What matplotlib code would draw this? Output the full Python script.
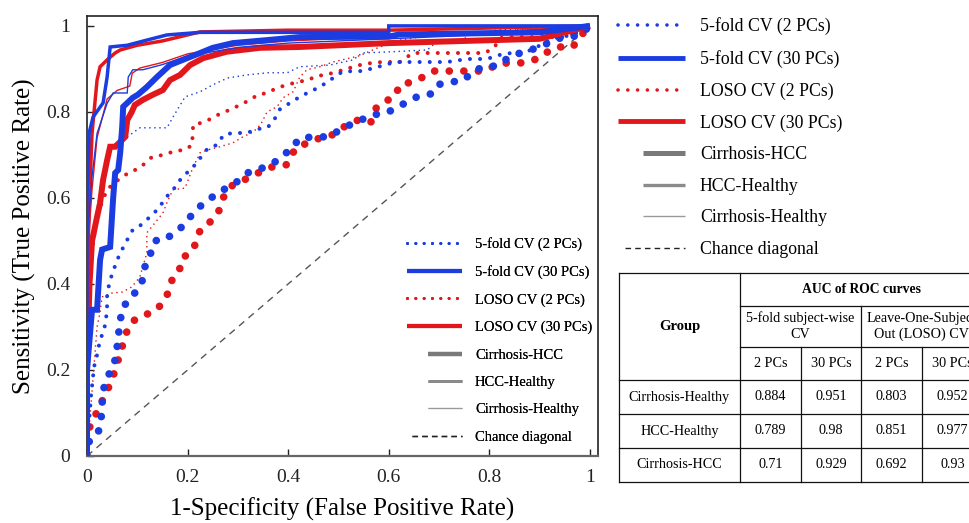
import matplotlib

matplotlib.use("Agg")
import numpy as np
import matplotlib.pyplot as plt
from matplotlib.lines import Line2D
from matplotlib.legend_handler import HandlerLine2D

plt.rcParams["font.family"] = ["Liberation Serif", "DejaVu Serif"]

# ---- ROC curves (FPR, TPR) ----
# Cirrhosis-HCC
kf2_ch_x = [0, 0.004, 0.022, 0.028, 0.03, 0.032, 0.04, 0.05, 0.06, 0.06, 0.066, 0.068, 0.08, 0.095,
            0.109, 0.113, 0.125, 0.131, 0.147, 0.162, 0.189, 0.218, 0.243, 0.266, 0.29, 0.322, 0.35,
            0.37, 0.39, 0.41, 0.42, 0.447, 0.48, 0.50, 0.523, 0.543, 0.566, 0.594, 0.616, 0.636, 0.656,
            0.684, 0.696, 0.716, 0.75, 0.767, 0.791, 0.815, 0.837, 0.861, 0.887, 0.91, 0.93, 0.96, 0.98, 1.0]
kf2_ch_y = [0, 0.033, 0.053, 0.084, 0.12, 0.153, 0.18, 0.207, 0.235, 0.272, 0.302, 0.337, 0.36, 0.379,
            0.402, 0.435, 0.463, 0.495, 0.509, 0.509, 0.533, 0.574, 0.597, 0.616, 0.63, 0.66, 0.67,
            0.68, 0.70, 0.716, 0.737, 0.742, 0.742, 0.756, 0.77, 0.78, 0.793, 0.797, 0.81, 0.823, 0.835,
            0.842, 0.863, 0.868, 0.874, 0.895, 0.905, 0.907, 0.925, 0.937, 0.946, 0.956, 0.97, 0.974, 0.979, 1.0]
lo2_ch_x = [0, 0.006, 0.018, 0.048, 0.056, 0.078, 0.089, 0.109, 0.133, 0.151, 0.161, 0.169, 0.183, 0.189,
            0.207, 0.218, 0.225, 0.243, 0.261, 0.268, 0.284, 0.304, 0.34, 0.368, 0.396, 0.406, 0.42, 0.445,
            0.467, 0.489, 0.517, 0.539, 0.564, 0.575, 0.59, 0.612, 0.622, 0.648, 0.668, 0.688, 0.722, 0.753,
            0.787, 0.811, 0.835, 0.869, 0.894, 0.912, 0.934, 0.966, 0.98, 1.0]
lo2_ch_y = [0, 0.072, 0.098, 0.172, 0.2, 0.286, 0.312, 0.326, 0.335, 0.356, 0.379, 0.409, 0.428, 0.46,
            0.474, 0.498, 0.526, 0.542, 0.565, 0.595, 0.626, 0.637, 0.658, 0.672, 0.677, 0.70, 0.721, 0.729,
            0.742, 0.747, 0.77, 0.781, 0.775, 0.809, 0.823, 0.835, 0.863, 0.87, 0.881, 0.895, 0.895, 0.895,
            0.895, 0.907, 0.914, 0.914, 0.923, 0.937, 0.951, 0.951, 0.975, 1.0]
kf30_ch_x = [0, 0, 0.01, 0.02, 0.026, 0.03, 0.046, 0.052, 0.056, 0.062, 0.066, 0.07, 0.072, 0.082, 0.091,
             0.101, 0.119, 0.139, 0.165, 0.199, 0.225, 0.25, 0.29, 0.358, 0.423, 0.6, 0.62, 0.9, 1.0]
kf30_ch_y = [0, 0.2, 0.34, 0.34, 0.456, 0.48, 0.486, 0.6, 0.658, 0.665, 0.705, 0.765, 0.812, 0.823, 0.833,
             0.84, 0.858, 0.881, 0.909, 0.925, 0.937, 0.949, 0.96, 0.967, 0.974, 0.975, 0.98, 0.985, 1.0]
lo30_ch_x = [0, 0.0, 0.005, 0.01, 0.02, 0.026, 0.032, 0.04, 0.046, 0.056, 0.076, 0.08, 0.089, 0.095, 0.111,
             0.131, 0.151, 0.165, 0.185, 0.205, 0.231, 0.278, 0.344, 0.423, 0.6, 0.9, 1.0]
lo30_ch_y = [0, 0.2, 0.4, 0.5, 0.556, 0.588, 0.642, 0.688, 0.719, 0.719, 0.742, 0.781, 0.8, 0.816, 0.828,
             0.84, 0.851, 0.874, 0.886, 0.909, 0.925, 0.94, 0.949, 0.951, 0.96, 0.97, 1.0]

# HCC-Healthy
kf2_hh_x = [0, 0.003, 0.008, 0.014, 0.02, 0.026, 0.034, 0.038, 0.04, 0.04, 0.048, 0.06, 0.074, 0.091, 0.105,
            0.129, 0.145, 0.155, 0.169, 0.181, 0.195, 0.207, 0.218, 0.229, 0.241, 0.258, 0.272, 0.29, 0.318,
            0.338, 0.358, 0.37, 0.384, 0.404, 0.423, 0.443, 0.463, 0.487, 0.507, 0.529, 0.549, 0.569, 0.592,
            0.612, 0.636, 0.672, 0.716, 0.755, 0.785, 0.805, 0.827, 0.847, 0.875, 0.91, 0.926, 0.946, 0.974, 1.0]
kf2_hh_y = [0, 0.06, 0.14, 0.207, 0.235, 0.27, 0.293, 0.32, 0.35, 0.38, 0.416, 0.456, 0.49, 0.526, 0.535,
            0.56, 0.579, 0.6, 0.614, 0.637, 0.653, 0.67, 0.679, 0.70, 0.716, 0.723, 0.747, 0.751, 0.751,
            0.76, 0.763, 0.777, 0.807, 0.821, 0.835, 0.847, 0.858, 0.877, 0.893, 0.895, 0.895, 0.902, 0.909,
            0.916, 0.916, 0.916, 0.916, 0.923, 0.923, 0.926, 0.935, 0.937, 0.94, 0.96, 0.972, 0.974, 0.984, 1.0]
lo2_hh_x = [0, 0.0, 0.003, 0.006, 0.01, 0.02, 0.04, 0.062, 0.082, 0.105, 0.129, 0.151, 0.175, 0.195, 0.209,
            0.211, 0.225, 0.241, 0.26, 0.284, 0.304, 0.324, 0.34, 0.358, 0.378, 0.398, 0.42, 0.44, 0.457,
            0.477, 0.493, 0.513, 0.529, 0.553, 0.586, 0.622, 0.648, 0.668, 0.716, 0.738, 0.791, 0.81, 0.821,
            0.845, 0.881, 0.905, 0.946, 0.97, 1.0]
lo2_hh_y = [0, 0.15, 0.3, 0.4, 0.48, 0.56, 0.62, 0.642, 0.658, 0.67, 0.695, 0.70, 0.709, 0.712, 0.723,
            0.77, 0.774, 0.781, 0.793, 0.805, 0.816, 0.828, 0.84, 0.844, 0.856, 0.863, 0.87, 0.874, 0.884,
            0.886, 0.893, 0.898, 0.905, 0.912, 0.916, 0.916, 0.937, 0.937, 0.937, 0.937, 0.937, 0.95, 0.972,
            0.974, 0.974, 0.974, 0.974, 0.984, 1.0]
kf30_hh_x = [0, 0.0, 0.004, 0.012, 0.032, 0.04, 0.046, 0.08, 0.119, 0.159, 0.225, 0.6, 0.6, 1.0]
kf30_hh_y = [0, 0.6, 0.75, 0.788, 0.821, 0.881, 0.951, 0.955, 0.967, 0.979, 0.985, 0.985, 1.0, 1.0]
lo30_hh_x = [0, 0.0, 0.005, 0.01, 0.02, 0.026, 0.04, 0.056, 0.066, 0.1, 0.15, 0.225, 0.4, 0.6, 1.0]
lo30_hh_y = [0, 0.4, 0.6, 0.75, 0.874, 0.905, 0.921, 0.937, 0.944, 0.955, 0.965, 0.986, 0.99, 0.99, 1.0]

# Cirrhosis-Healthy
kf2_cy_x = [0, 0.0, 0.01, 0.03, 0.05, 0.07, 0.08, 0.105, 0.159, 0.171, 0.195, 0.225, 0.25, 0.28, 0.318,
            0.358, 0.398, 0.423, 0.483, 0.529, 0.547, 0.608, 0.676, 0.696, 0.747, 0.761, 0.821, 0.855, 1.0]
kf2_cy_y = [0, 0.3, 0.5, 0.65, 0.72, 0.74, 0.742, 0.763, 0.763, 0.788, 0.835, 0.847, 0.863, 0.879, 0.886,
            0.891, 0.891, 0.905, 0.909, 0.921, 0.937, 0.94, 0.944, 0.963, 0.965, 0.984, 0.984, 0.991, 1.0]
lo2_cy_x = [0, 0.01, 0.02, 0.026, 0.03, 0.05, 0.07, 0.089, 0.105, 0.119, 0.119, 0.151, 0.161, 0.171, 0.195,
            0.211, 0.225, 0.241, 0.264, 0.29, 0.31, 0.33, 0.345, 0.358, 0.378, 0.39, 0.41, 0.423, 0.437,
            0.463, 0.489, 0.54, 0.58, 0.622, 0.66, 0.78, 0.82, 1.0]
lo2_cy_y = [0, 0.15, 0.3, 0.335, 0.37, 0.379, 0.381, 0.393, 0.416, 0.472, 0.519, 0.565, 0.595, 0.619, 0.623,
            0.672, 0.705, 0.712, 0.719, 0.728, 0.742, 0.753, 0.77, 0.80, 0.812, 0.833, 0.847, 0.881, 0.898,
            0.905, 0.916, 0.93, 0.95, 0.967, 0.974, 0.984, 0.991, 1.0]
kf30_cy_x = [0, 0.0, 0.01, 0.02, 0.04, 0.052, 0.08, 0.082, 0.091, 0.111, 0.15, 0.2, 0.3, 0.4, 0.6, 0.8, 1.0]
kf30_cy_y = [0, 0.5, 0.65, 0.75, 0.82, 0.844, 0.844, 0.881, 0.898, 0.898, 0.91, 0.93, 0.95, 0.96, 0.97, 0.98, 1.0]
lo30_cy_x = [0, 0.0, 0.01, 0.02, 0.04, 0.06, 0.085, 0.09, 0.105, 0.15, 0.2, 0.3, 0.4, 0.6, 0.8, 1.0]
lo30_cy_y = [0, 0.45, 0.62, 0.74, 0.83, 0.85, 0.86, 0.89, 0.902, 0.915, 0.935, 0.955, 0.965, 0.975, 0.985, 1.0]

methods = ["5-fold CV (2 PCs)", "5-fold CV (30 PCs)", "LOSO CV (2 PCs)", "LOSO CV (30 PCs)"]
groups = ["Cirrhosis-HCC", "HCC-Healthy", "Cirrhosis-Healthy"]

# table values: rows Cirrhosis-Healthy, HCC-Healthy, Cirrhosis-HCC
table_groups = ["Cirrhosis-Healthy", "HCC-Healthy", "Cirrhosis-HCC"]
auc_kfold_2 = ["0.884", "0.789", "0.71"]
auc_kfold_30 = ["0.951", "0.98", "0.929"]
auc_loso_2 = ["0.803", "0.851", "0.692"]
auc_loso_30 = ["0.952", "0.977", "0.93"]

BLUE = "#1b3ce0"
RED = "#e2171c"

# width of solid line, width of dotted line, dot pitch (in line widths)
group_style = {
    "Cirrhosis-HCC": (4.3, 5.5, 1.9),
    "HCC-Healthy": (2.5, 2.9, 2.5),
    "Cirrhosis-Healthy": (1.0, 1.2, 3.0),
}

curves = {
    ("LOSO CV (2 PCs)", "Cirrhosis-Healthy"): (lo2_cy_x, lo2_cy_y),
    ("LOSO CV (2 PCs)", "HCC-Healthy"): (lo2_hh_x, lo2_hh_y),
    ("LOSO CV (2 PCs)", "Cirrhosis-HCC"): (lo2_ch_x, lo2_ch_y),
    ("LOSO CV (30 PCs)", "Cirrhosis-Healthy"): (lo30_cy_x, lo30_cy_y),
    ("LOSO CV (30 PCs)", "HCC-Healthy"): (lo30_hh_x, lo30_hh_y),
    ("LOSO CV (30 PCs)", "Cirrhosis-HCC"): (lo30_ch_x, lo30_ch_y),
    ("5-fold CV (2 PCs)", "Cirrhosis-Healthy"): (kf2_cy_x, kf2_cy_y),
    ("5-fold CV (2 PCs)", "HCC-Healthy"): (kf2_hh_x, kf2_hh_y),
    ("5-fold CV (2 PCs)", "Cirrhosis-HCC"): (kf2_ch_x, kf2_ch_y),
    ("5-fold CV (30 PCs)", "Cirrhosis-Healthy"): (kf30_cy_x, kf30_cy_y),
    ("5-fold CV (30 PCs)", "HCC-Healthy"): (kf30_hh_x, kf30_hh_y),
    ("5-fold CV (30 PCs)", "Cirrhosis-HCC"): (kf30_ch_x, kf30_ch_y),
}


def method_style(method):
    color = BLUE if method.startswith("5-fold") else RED
    dotted = "(2 PCs)" in method
    return color, dotted


fig = plt.figure(figsize=(9.7, 5.23), dpi=100)
ax = fig.add_axes([87 / 970, 67 / 523, 511 / 970, 440 / 523])

ax.plot([0, 1], [0, 1], color="#555555", lw=1.0, dashes=(5, 4), zorder=1)

for (method, group), (xs, ys) in curves.items():
    color, dotted = method_style(method)
    lw_solid, lw_dot, pitch = group_style[group]
    if dotted:
        ax.plot(xs, ys, color=color, lw=lw_dot, linestyle=(0, (0.01, pitch)),
                dash_capstyle="round", zorder=2)
    else:
        ax.plot(xs, ys, color=color, lw=lw_solid, solid_joinstyle="miter",
                solid_capstyle="butt", zorder=3)

ax.set_xlim(0, 1.016)
ax.set_ylim(0, 1.023)
ax.set_xticks([0, 0.2, 0.4, 0.6, 0.8, 1])
ax.set_yticks([0, 0.2, 0.4, 0.6, 0.8, 1])
ax.set_xticklabels(["0", "0.2", "0.4", "0.6", "0.8", "1"])
ax.set_yticklabels(["0", "0.2", "0.4", "0.6", "0.8", "1"])
ax.tick_params(axis="both", direction="in", length=5, width=1, labelsize=14, colors="#222222")
ax.tick_params(axis="x", pad=9)
ax.tick_params(axis="y", pad=12)
for side in ["top", "right", "left"]:
    ax.spines[side].set_color("#222222")
    ax.spines[side].set_linewidth(1.2)
ax.spines["bottom"].set_color("#666666")
ax.spines["bottom"].set_linewidth(1.6)

ax.set_xlabel("1-Specificity (False Positive Rate)", fontsize=18, labelpad=9)
ax.set_ylabel("Sensitivity (True Positive Rate)", fontsize=18, labelpad=7)


class ShortLine(HandlerLine2D):
    """legend line that only uses the right part of the handle box"""

    def __init__(self, frac, **kw):
        super().__init__(**kw)
        self.frac = frac

    def create_artists(self, legend, orig_handle, xdescent, ydescent, width, height, fontsize, trans):
        artists = super().create_artists(legend, orig_handle, xdescent, ydescent, width, height,
                                         fontsize, trans)
        line = artists[0]
        xd = np.asarray(line.get_xdata(), dtype=float)
        x0, x1 = xd[0], xd[-1]
        line.set_xdata(np.linspace(x1 - self.frac * (x1 - x0), x1, len(xd)))
        return artists


def legend_handles(scale):
    hs = []
    for m in methods:
        color, dotted = method_style(m)
        if dotted:
            hs.append(Line2D([], [], color=color, lw=2.6 * scale, linestyle=(0, (0.01, 2.7)),
                             dash_capstyle="round"))
        else:
            hs.append(Line2D([], [], color=color, lw=3.5 * scale, solid_capstyle="butt"))
    grey_w = [3.6, 2.4, 1.0]
    grey_c = ["#7a7a7a", "#8a8a8a", "#9a9a9a"]
    for w, c in zip(grey_w, grey_c):
        hs.append(Line2D([], [], color=c, lw=w * scale, solid_capstyle="butt"))
    hs.append(Line2D([], [], color="#222222", lw=1.0, dashes=(4, 3)))
    return hs


labels = methods + groups + ["Chance diagonal"]


def short_map(hs):
    hm = {h: ShortLine(0.62) for h in hs[4:7]}
    hm[hs[7]] = ShortLine(0.9)
    return hm


hs_in = legend_handles(0.85)
leg_in = ax.legend(hs_in, labels, loc="upper left", bbox_to_anchor=(407 / 970, 1 - 237 / 523),
                   bbox_transform=fig.transFigure, frameon=False, fontsize=10.5, handlelength=3.77,
                   handletextpad=0.9, labelspacing=0.97, borderpad=0, borderaxespad=0,
                   handler_map=short_map(hs_in))
ax.add_artist(leg_in)

hs_out = legend_handles(1.0)
fig.legend(hs_out, labels, loc="upper left", bbox_to_anchor=(618 / 970, 1 - 17.5 / 523),
           frameon=False, fontsize=12.8, handlelength=3.75, handletextpad=0.85, labelspacing=0.82,
           borderpad=0, borderaxespad=0, handler_map=short_map(hs_out))

# ---- AUC table, drawn in pixel coordinates ----
tab = fig.add_axes([0, 0, 1, 1])
tab.set_xlim(0, 970)
tab.set_ylim(523, 0)
tab.axis("off")
tab.patch.set_alpha(0)

col_edges = [619, 740, 801, 861, 922, 983]
row_edges = [273, 306, 347, 380, 414, 448, 482]
lc = dict(color="#111111", lw=0.9)

for y in [row_edges[0]] + row_edges[3:]:
    tab.plot([col_edges[0], col_edges[-1]], [y, y], **lc)
for y in row_edges[1:3]:
    tab.plot([col_edges[1], col_edges[-1]], [y, y], **lc)
for x in [col_edges[0], col_edges[1], col_edges[-1]]:
    tab.plot([x, x], [row_edges[0], row_edges[-1]], **lc)
tab.plot([col_edges[3], col_edges[3]], [row_edges[1], row_edges[-1]], **lc)
for x in [col_edges[2], col_edges[4]]:
    tab.plot([x, x], [row_edges[2], row_edges[-1]], **lc)


def cell_center(c0, c1, r0, r1):
    return (col_edges[c0] + col_edges[c1]) / 2, (row_edges[r0] + row_edges[r1]) / 2


tfs = 10.2
x, y = cell_center(0, 1, 0, 3)
tab.text(x, y, "Group", ha="center", va="center", fontsize=tfs + 0.3, fontweight="bold")
x, y = cell_center(1, 5, 0, 1)
tab.text(x, y, "AUC of ROC curves", ha="center", va="center", fontsize=tfs - 0.4, fontweight="bold")
x, y = cell_center(1, 3, 1, 2)
tab.text(x, y, "5-fold subject-wise\nCV", ha="center", va="center", fontsize=tfs, linespacing=1.3)
x, y = cell_center(3, 5, 1, 2)
tab.text(x, y, "Leave-One-Subject\nOut (LOSO) CV", ha="center", va="center", fontsize=tfs,
         linespacing=1.3)
for c in range(1, 5):
    x, y = cell_center(c, c + 1, 2, 3)
    tab.text(x, y, "2 PCs" if c % 2 == 1 else "30 PCs", ha="center", va="center", fontsize=tfs)

columns = [table_groups, auc_kfold_2, auc_kfold_30, auc_loso_2, auc_loso_30]
for c, col in enumerate(columns):
    for r, val in enumerate(col):
        x, y = cell_center(c, c + 1, 3 + r, 4 + r)
        tab.text(x, y, val, ha="center", va="center", fontsize=tfs)

fig.savefig("out.png", dpi=100)
